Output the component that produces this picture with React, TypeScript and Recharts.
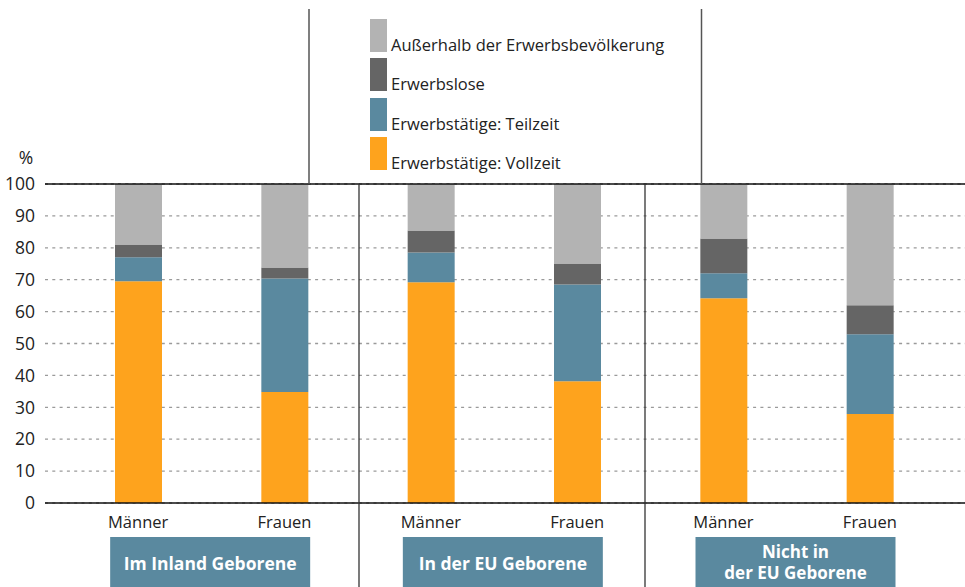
import React from 'react';
import { BarChart, Bar, XAxis, YAxis, CartesianGrid, Legend, ReferenceLine } from 'recharts';

const keys = ['g1m', 'g1f', 'g2m', 'g2f', 'g3m', 'g3f'];
const subLabels = ['Männer', 'Frauen', 'Männer', 'Frauen', 'Männer', 'Frauen'];
const groupLabels = [['Im Inland Geborene'], ['In der EU Geborene'], ['Nicht in', 'der EU Geborene']];
const vollzeit = [69.5, 34.8, 69.2, 38.2, 64.2, 27.9];
const teilzeit = [7.5, 35.6, 9.3, 30.3, 7.8, 25.0];
const erwerbslose = [4.0, 3.4, 6.9, 6.6, 10.9, 9.1];
const ausserhalb = [19.0, 26.2, 14.6, 24.9, 17.1, 38.0];
const yTicks = [0, 10, 20, 30, 40, 50, 60, 70, 80, 90, 100];

const series = [
  { key: 'vollzeit', name: 'Erwerbstätige: Vollzeit', color: '#FEA31D' },
  { key: 'teilzeit', name: 'Erwerbstätige: Teilzeit', color: '#5A899F' },
  { key: 'erwerbslose', name: 'Erwerbslose', color: '#656565' },
  { key: 'ausserhalb', name: 'Außerhalb der Erwerbsbevölkerung', color: '#B3B3B3' },
];

const data = keys.map((k, i) => ({
  key: k,
  vollzeit: vollzeit[i],
  teilzeit: teilzeit[i],
  erwerbslose: erwerbslose[i],
  ausserhalb: ausserhalb[i],
}));

const FONT = '"Open Sans", "Noto Sans", sans-serif';

const XTick = (props: any) => {
  const { x, y, payload } = props;
  const idx = payload.index;
  const label = subLabels[idx];
  const els: any[] = [
    <text key="t" x={x} y={y + 17} textAnchor="middle" fontFamily={FONT} fontSize={16.5} fill="#222">
      {label}
    </text>,
  ];
  if (idx % 2 === 0) {
    const g = groupLabels[idx / 2];
    const cx = x + 72;
    els.push(<rect key="r" x={x - 28} y={y + 26} width={200} height={70} fill="#5A899F" />);
    if (g.length === 1) {
      els.push(
        <text key="g" x={cx} y={y + 59} textAnchor="middle" fontFamily={FONT} fontWeight={700} fontSize={17.5} fill="#fff">
          {g[0]}
        </text>
      );
    } else {
      g.forEach((line, j) => {
        els.push(
          <text key={'g' + j} x={cx} y={y + 47 + j * 21} textAnchor="middle" fontFamily={FONT} fontWeight={700} fontSize={17} fill="#fff">
            {line}
          </text>
        );
      });
    }
  }
  return <g>{els}</g>;
};

const LegendContent = () => {
  const items = [...series].reverse();
  return (
    <div style={{ fontFamily: FONT }}>
      {items.map((s) => (
        <div key={s.key} style={{ display: 'flex', alignItems: 'flex-end', height: 33, marginBottom: 6.3 }}>
          <div style={{ width: 17, height: 33, background: s.color, flex: 'none' }} />
          <span style={{ fontSize: 16.5, lineHeight: '16px', color: '#222', marginLeft: 4, marginBottom: -1, whiteSpace: 'nowrap' }}>{s.name}</span>
        </div>
      ))}
    </div>
  );
};

export default function App() {
  return (
    <div style={{ position: 'absolute', left: 0, top: 0, width: 965, height: 587, background: '#fff', overflow: 'hidden' }}>
      <BarChart
        width={965}
        height={587}
        data={data}
        margin={{ top: 184, right: 0, bottom: 0, left: 0 }}
        barSize={47}
      >
        <CartesianGrid vertical={false} stroke="#9a9a9a" strokeDasharray="3 4.3" strokeWidth={1.3} />
        <XAxis
          dataKey="key"
          height={84}
          padding={{ left: 20, right: 22 }}
          tickLine={false}
          axisLine={{ stroke: '#111', strokeWidth: 1.5 }}
          tick={<XTick />}
          interval={0}
        />
        <YAxis
          width={45}
          domain={[0, 100]}
          ticks={yTicks}
          interval={0}
          tickLine={false}
          axisLine={false}
          tick={{ fontFamily: FONT, fontSize: 17.5, fill: '#222', dx: -2 }}
        />
        <Legend
          layout="vertical"
          align="center"
          verticalAlign="middle"
          content={<LegendContent />}
          wrapperStyle={{ position: 'absolute', top: 19, left: 370, width: 320 }}
        />
        {series.map((s) => (
          <Bar key={s.key} dataKey={s.key} name={s.name} stackId="a" fill={s.color} isAnimationActive={false} />
        ))}
        <ReferenceLine y={100} stroke="#111" strokeWidth={1.5} />
      </BarChart>
      <svg
        width={965}
        height={587}
        style={{ position: 'absolute', left: 0, top: 0, pointerEvents: 'none' }}
      >
        <line x1={309} y1={9} x2={309} y2={184} stroke="#555" strokeWidth={1.5} />
        <line x1={701.5} y1={9} x2={701.5} y2={184} stroke="#555" strokeWidth={1.5} />
        <line x1={359} y1={184} x2={359} y2={587} stroke="#333" strokeWidth={1.3} />
        <line x1={645} y1={184} x2={645} y2={587} stroke="#333" strokeWidth={1.3} />
        <text x={26} y={164} textAnchor="middle" fontFamily={FONT} fontSize={17.5} fill="#222">
          %
        </text>
      </svg>
    </div>
  );
}
